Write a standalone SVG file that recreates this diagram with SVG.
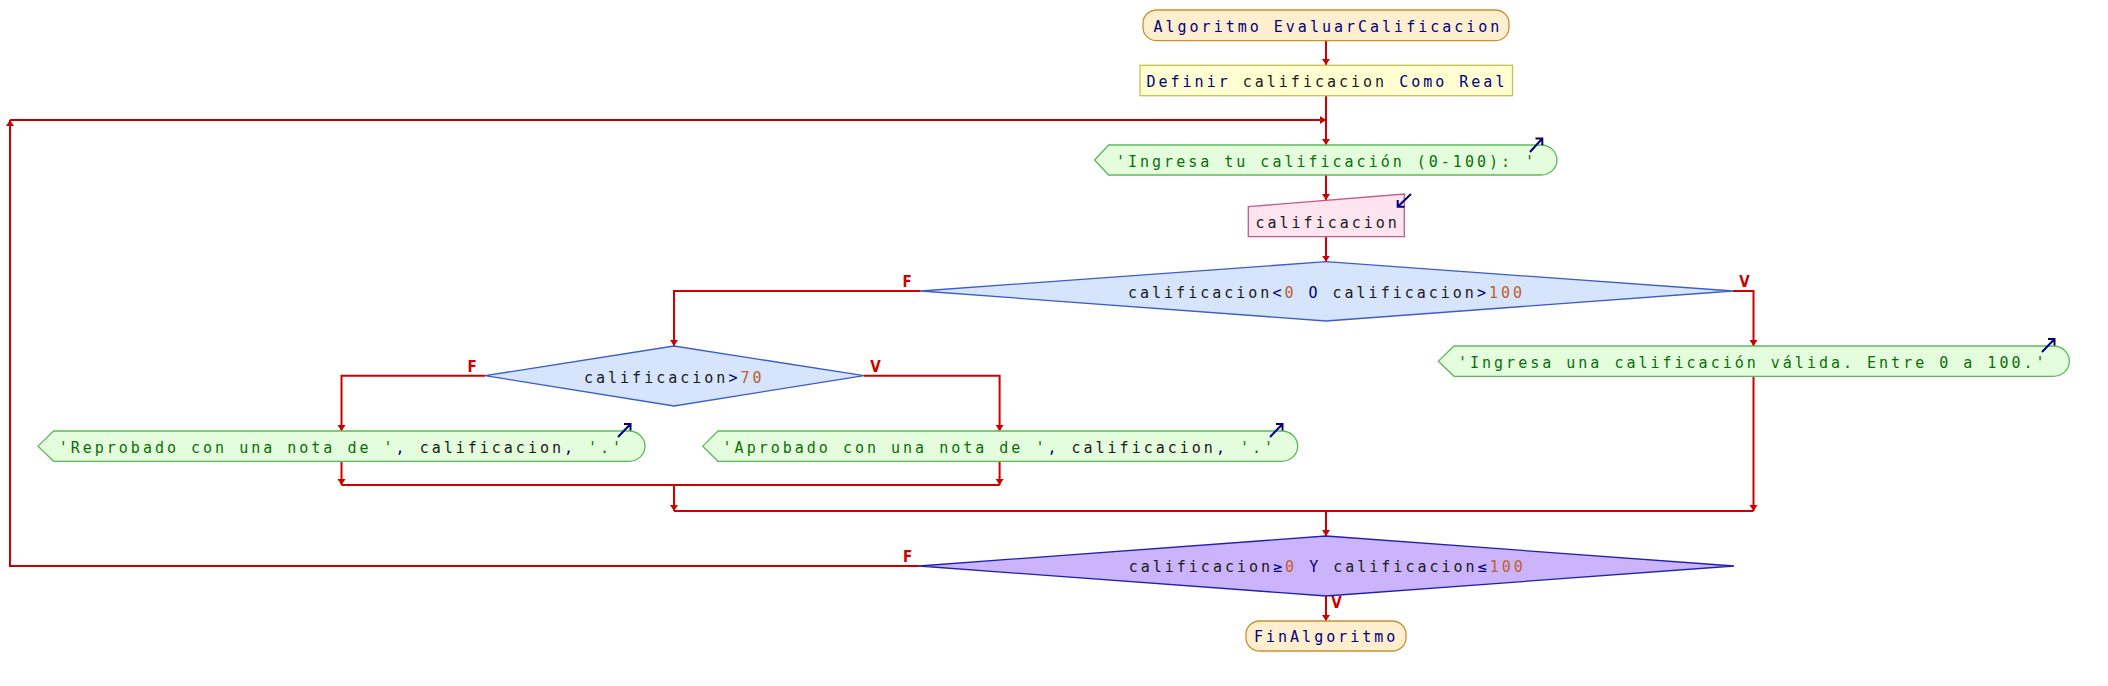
<svg xmlns="http://www.w3.org/2000/svg" width="2108" height="686" viewBox="0 0 2108 686">
<style>
text{font-family:"DejaVu Sans Mono","Liberation Mono",monospace;font-size:15px;letter-spacing:3px}
.kw{fill:#00007f}.v{fill:#1a1a1a}.n{fill:#c0602c}.s{fill:#0a6e0a}
.lbl{font-family:"DejaVu Sans Condensed","DejaVu Sans",sans-serif;font-size:15px;font-weight:bold;fill:#cc0000;letter-spacing:0;text-anchor:middle}
.term{fill:#ffefcf;stroke:#c89030;stroke-width:1.3}
.def{fill:#ffffd2;stroke:#c8c050;stroke-width:1.3}
.out{fill:#e4fddc;stroke:#5cb85c;stroke-width:1.3}
.inp{fill:#fde4ee;stroke:#c05c8c;stroke-width:1.3}
.dec{fill:#d6e4fc;stroke:#3c5cc8;stroke-width:1.3}
.rep{fill:#ccb4fc;stroke:#2020b0;stroke-width:1.3}
.ic{fill:none;stroke:#00007f;stroke-width:2}
.c{fill:none;stroke:#cc0000;stroke-width:2;marker-end:url(#ah)}
.cl{fill:none;stroke:#cc0000;stroke-width:2}
</style>
<defs>
<marker id="ah" markerUnits="userSpaceOnUse" markerWidth="9" markerHeight="9" refX="6" refY="4" orient="auto">
<path d="M0,0 L6,4 L0,8 Z" fill="#cc0000"/>
</marker>
</defs>
<rect width="2108" height="686" fill="#ffffff"/>
<g id="connectors">
<path class="c" d="M1326,40.7 V65"/>
<path class="c" d="M1326,95.7 V145"/>
<path class="c" d="M1326,175 V200"/>
<path class="c" d="M1326,236.7 V261.7"/>
<path class="c" d="M920.7,291 H674 V346"/>
<path class="c" d="M1733,291 H1753.5 V346"/>
<path class="c" d="M485,375.7 H341.5 V431"/>
<path class="c" d="M864,375.7 H999.6 V431"/>
<path class="c" d="M341.5,461.3 V485"/>
<path class="c" d="M999.6,461.3 V485"/>
<path class="cl" d="M341.5,485 H999.6"/>
<path class="c" d="M674,485 V511"/>
<path class="c" d="M1753.5,376.3 V511"/>
<path class="cl" d="M674,511 H1753.5"/>
<path class="c" d="M1326,511 V536"/>
<path class="c" d="M1326,596 V621"/>
<path class="c" d="M919,566 H10 V120"/>
<path class="c" d="M10,120 H1326"/>
<text class="lbl" x="907" y="287">F</text>
<text class="lbl" x="1744.5" y="287">V</text>
<text class="lbl" x="472" y="371.7">F</text>
<text class="lbl" x="875.5" y="371.7">V</text>
<text class="lbl" x="907.5" y="561.7">F</text>
<text class="lbl" x="1336.5" y="608">V</text>
</g>
<g id="start">
<rect class="term" x="1143" y="10" width="366" height="30.7" rx="14" ry="13"/>
<text x="1153.5" y="31.7" class="kw">Algoritmo EvaluarCalificacion</text>
</g>
<g id="define">
<rect class="def" x="1140" y="65.3" width="372.5" height="30.4"/>
<text x="1146.5" y="86.7"><tspan class="kw">Definir</tspan><tspan class="v"> calificacion </tspan><tspan class="kw">Como Real</tspan></text>
</g>
<g id="output1">
<path class="out" d="M1108.7,145 H1541 A16,15 0 0 1 1541,175 H1108.7 L1094.5,160 Z"/>
<text x="1116" y="166.7" class="s">'Ingresa tu calificación (0-100): '</text>
<path class="ic" d="M1530,152 L1542.3,138.5 M1535.5,138.5 H1542.3 V145.3"/>
</g>
<g id="input">
<path class="inp" d="M1248.3,206.7 L1404.3,194 V236.7 H1248.3 Z"/>
<text x="1255.5" y="227.7" class="v">calificacion</text>
<path class="ic" d="M1411,194 L1397.7,206.7 M1397.7,199.9 V206.7 H1404.5"/>
</g>
<g id="decision1">
<path class="dec" d="M1326,261.7 L1733,291 L1326,321 L920.7,291 Z"/>
<text x="1128" y="297.7"><tspan class="v">calificacion</tspan><tspan class="kw">&lt;</tspan><tspan class="n">0</tspan><tspan class="kw"> O </tspan><tspan class="v">calificacion</tspan><tspan class="kw">&gt;</tspan><tspan class="n">100</tspan></text>
</g>
<g id="decision2">
<path class="dec" d="M674,346 L864,375.7 L674,406 L485,375.7 Z"/>
<text x="584" y="383.3"><tspan class="v">calificacion</tspan><tspan class="kw">&gt;</tspan><tspan class="n">70</tspan></text>
</g>
<g id="output-reprobado">
<path class="out" d="M53.6,431 H629 A16,15.15 0 0 1 629,461.3 H53.6 L38,446.15 Z"/>
<text x="58.7" y="452.7"><tspan class="s">'Reprobado con una nota de '</tspan><tspan class="kw">, </tspan><tspan class="v">calificacion</tspan><tspan class="kw">, </tspan><tspan class="s">'.'</tspan></text>
<path class="ic" d="M618,437 L630.5,424 M624,424 H630.5 V430.5"/>
</g>
<g id="output-aprobado">
<path class="out" d="M718,431 H1281.7 A16,15.15 0 0 1 1281.7,461.3 H718 L702.8,446.15 Z"/>
<text x="722.6" y="452.7"><tspan class="s">'Aprobado con una nota de '</tspan><tspan class="kw">, </tspan><tspan class="v">calificacion</tspan><tspan class="kw">, </tspan><tspan class="s">'.'</tspan></text>
<path class="ic" d="M1270,437 L1282.5,424 M1276,424 H1282.5 V430.5"/>
</g>
<g id="output-invalida">
<path class="out" d="M1454,346 H2053.4 A16,15.15 0 0 1 2053.4,376.3 H1454 L1438.4,361.15 Z"/>
<text x="1458" y="367.7" class="s">'Ingresa una calificación válida. Entre 0 a 100.'</text>
<path class="ic" d="M2042,352 L2054.5,339 M2048,339 H2054.5 V345.5"/>
</g>
<g id="repeat-condition">
<path class="rep" d="M1326,536 L1734,566 L1326,596 L919,566 Z"/>
<text x="1128.7" y="572.3"><tspan class="v">calificacion</tspan><tspan class="kw">≥</tspan><tspan class="n">0</tspan><tspan class="kw"> Y </tspan><tspan class="v">calificacion</tspan><tspan class="kw">≤</tspan><tspan class="n">100</tspan></text>
</g>
<g id="end">
<rect class="term" x="1246" y="621" width="160" height="30" rx="14" ry="13"/>
<text x="1254" y="642.3" class="kw">FinAlgoritmo</text>
</g>
</svg>
